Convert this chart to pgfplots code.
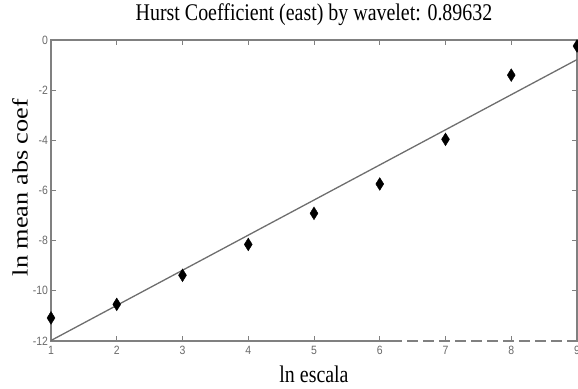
\documentclass[border=0pt]{standalone}
\usepackage{pgfplots}
\pgfplotsset{compat=1.18}
\usepackage{fontspec}
\setmainfont{Liberation Serif}
\newfontfamily\ticksfont{Liberation Sans}
\definecolor{axisgray}{RGB}{128,128,128}
\definecolor{labelgray}{RGB}{105,105,105}
\definecolor{fitgray}{RGB}{110,110,110}

\begin{document}
\begin{tikzpicture}
\begin{axis}[
  name=ax,
  scale only axis,
  width=526bp, height=301bp,
  xmin=1, xmax=9, ymin=-12, ymax=0,
  xtick={1,2,...,9}, ytick={-12,-10,...,0},
  tick align=inside,
  major tick length=5bp,
  tick style={axisgray, line width=1bp},
  axis line style={axisgray, line width=2.2bp},
  clip=false,
  /pgf/number format/assume math mode=true,
  ticklabel style={font=\ticksfont\fontsize{10.5}{12}\selectfont, text=labelgray},
  xticklabel={\scalebox{1}[1.15]{\pgfmathprintnumber{\tick}}},
  yticklabel={\scalebox{1}[1.15]{\pgfmathprintnumber{\tick}}},
  xticklabel style={yshift=-2bp},
  yticklabel style={xshift=0.5bp},
  title={\scalebox{1}[1.2]{Hurst Coefficient (east) by wavelet: 0.89632}},
  title style={at={(axis description cs:0.5,1.0465)}, anchor=base,
    font=\fontsize{20}{24}\selectfont},
  xlabel={\scalebox{1}[1.2]{ln escala}},
  xlabel style={at={(axis description cs:0.5,-0.1395)}, anchor=base,
    font=\fontsize{20}{24}\selectfont},
  ylabel={\scalebox{1.2}[1]{ln mean abs coef}},
  ylabel style={at={(axis description cs:-0.0589,0.51)}, anchor=center,
    rotate=0, font=\fontsize{22}{26}\selectfont},
]
% least-squares fit of ln(mean |coef|) against ln(scale)
\addplot[fitgray, line width=1.3bp] coordinates {(1,-11.98) (9,-0.78)};
% measured points
\addplot[only marks, mark=diamond*, mark size=5.3bp,
  mark options={fill=black, draw=black, line width=0.4bp, yscale=1.2}]
  coordinates {
  (1,-11.08) (2,-10.54) (3,-9.38) (4,-8.15) (5,-6.91)
  (6,-5.74) (7,-3.96) (8,-1.40) (9,-0.24)
};
% broken stretch of the lower axis line
\draw[white, line width=3bp, dash pattern=on 5bp off 11bp, dash phase=0bp]
  (axis cs:6.34,-12) -- (axis cs:9,-12);
\end{axis}
\pgfresetboundingbox
\path[use as bounding box] ([shift={(-51bp,-47bp)}]ax.south west)
  rectangle ([shift={(1bp,40bp)}]ax.north east);
\end{tikzpicture}
\end{document}
